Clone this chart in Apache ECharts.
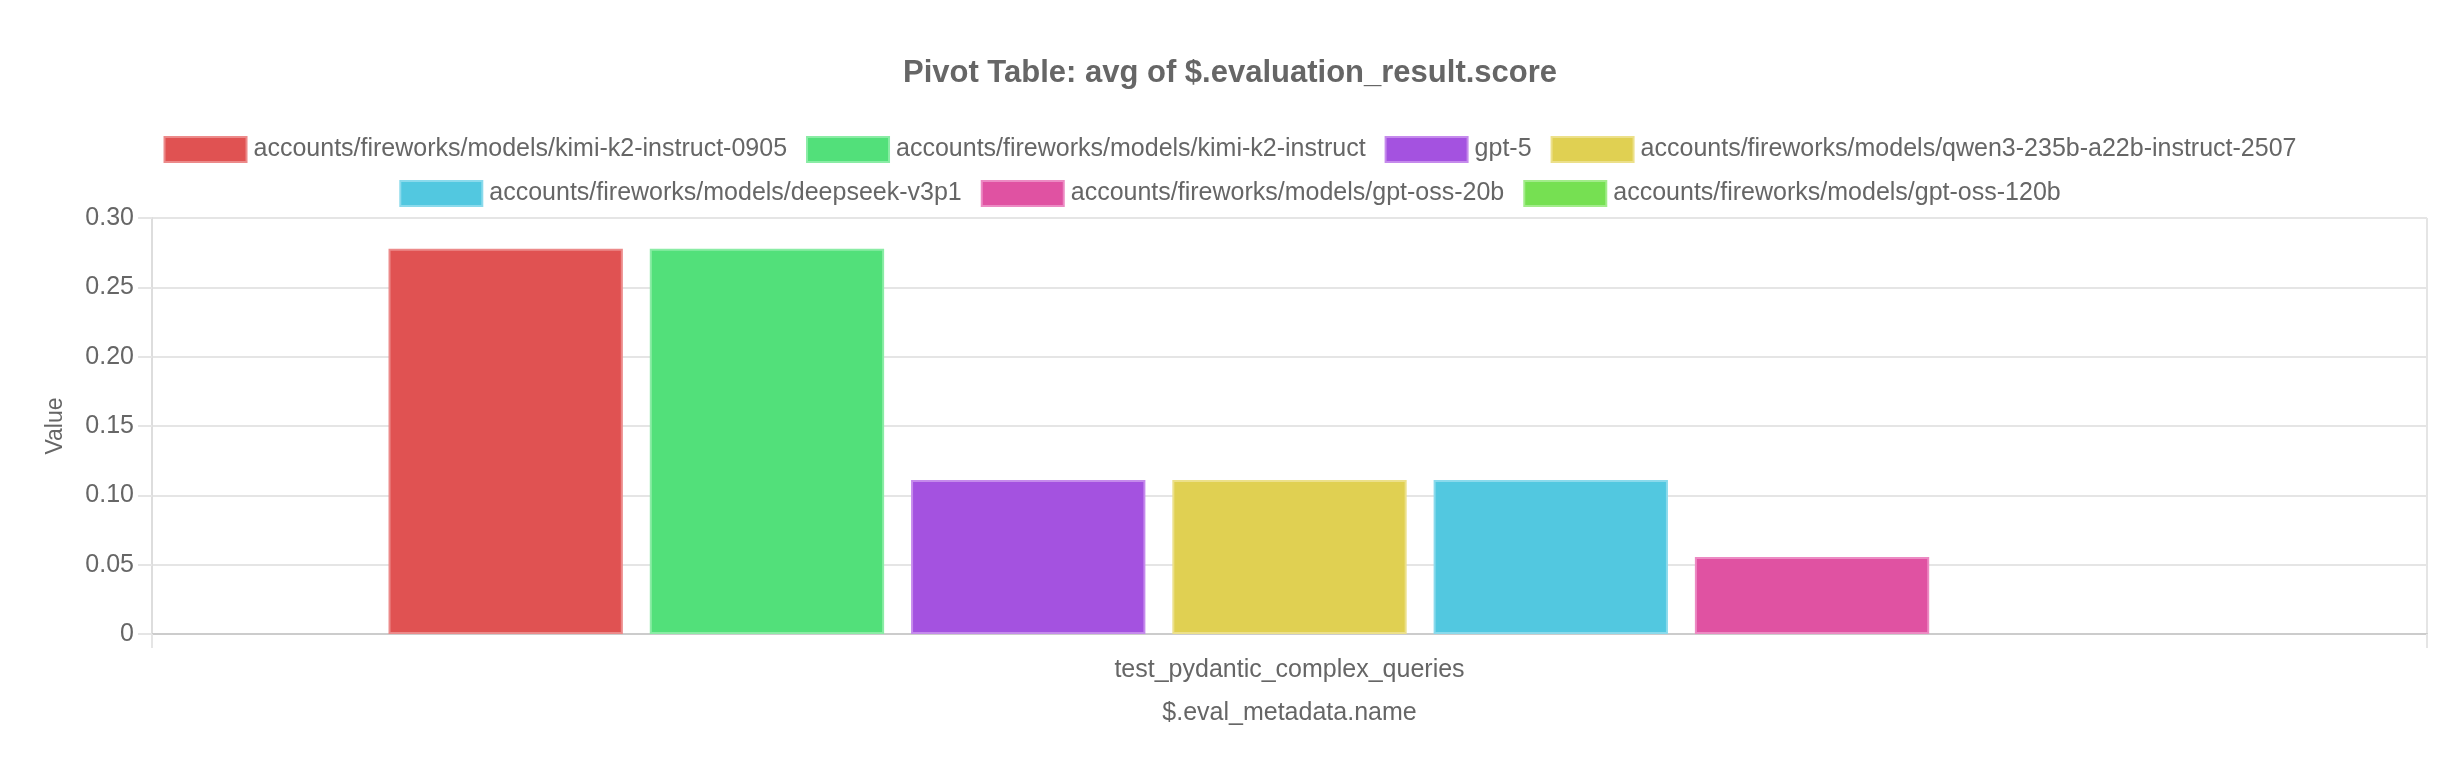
<!DOCTYPE html>
<html>
<head>
<meta charset="utf-8">
<script src="https://cdn.jsdelivr.net/npm/echarts@6/dist/echarts.min.js"></script>
<style>
  html, body { margin: 0; padding: 0; background: #fff; }
  #chart { width: 2460px; height: 768px; }
</style>
</head>
<body>
<div id="chart"></div>
<script>
// data
var categories = ['test_pydantic_complex_queries'];
var modelNames = [
  'accounts/fireworks/models/kimi-k2-instruct-0905',
  'accounts/fireworks/models/kimi-k2-instruct',
  'gpt-5',
  'accounts/fireworks/models/qwen3-235b-a22b-instruct-2507',
  'accounts/fireworks/models/deepseek-v3p1',
  'accounts/fireworks/models/gpt-oss-20b',
  'accounts/fireworks/models/gpt-oss-120b'
];
var scores = [0.2778, 0.2778, 0.1111, 0.1111, 0.1111, 0.0556, 0];
var fillColors = ['#E05252', '#52E07A', '#A452E0', '#E0D052', '#52C8E0', '#E052A2', '#76E052'];
var edgeColors = ['#EC8A8A', '#8AECA5', '#C58AEC', '#ECE08A', '#8ADAEC', '#EC8AC3', '#A2EC8A'];
var yTicks = { min: 0, max: 0.30, step: 0.05 };

var FONT = '"Helvetica Neue", Helvetica, Arial, "Liberation Sans", sans-serif';

(function() {
  var myChart = echarts.init(document.getElementById('chart'));

  var series = modelNames.map(function(name, i) {
    return {
      name: name,
      type: 'bar',
      barWidth: '10.3%',
      barGap: '11.5%',
      itemStyle: {
        color: fillColors[i],
        borderColor: edgeColors[i],
        borderWidth: 2
      },
      // a zero bar is not drawn at all in the original
      data: [{ value: scores[i], itemStyle: { borderWidth: scores[i] === 0 ? 0 : 2 } }]
    };
  });

  var legendBase = {
    left: 'center',
    itemWidth: 82,
    itemHeight: 25,
    itemGap: 19,
    icon: 'rect',
    textStyle: { color: '#666', fontSize: 25, fontFamily: FONT, padding: [0, 0, 0, 2] }
  };

  var option = {
    backgroundColor: '#fff',
    animation: false,
    title: {
      text: 'Pivot Table: avg of $.evaluation_result.score',
      left: 'center',
      top: 53,
      textStyle: { color: '#666', fontSize: 31, fontWeight: 'bold', fontFamily: FONT }
    },
    legend: [
      Object.assign({}, legendBase, { top: 131, data: modelNames.slice(0, 4) }),
      Object.assign({}, legendBase, { top: 175, data: modelNames.slice(4) })
    ],
    grid: { left: 152, right: 33, top: 218, bottom: 134, containLabel: false },
    xAxis: {
      type: 'category',
      data: categories,
      name: '$.eval_metadata.name',
      nameLocation: 'middle',
      nameGap: 67,
      nameTextStyle: { color: '#666', fontSize: 25, fontFamily: FONT },
      axisLine: { lineStyle: { color: '#ccc', width: 2 } },
      axisTick: { show: true, length: 14, lineStyle: { color: '#e5e5e5', width: 2 } },
      splitLine: { show: true, lineStyle: { color: '#e5e5e5', width: 2 } },
      axisLabel: { color: '#666', fontSize: 25, fontFamily: FONT, margin: 24 }
    },
    yAxis: {
      type: 'value',
      min: yTicks.min,
      max: yTicks.max,
      interval: yTicks.step,
      name: 'Value',
      nameLocation: 'middle',
      nameGap: 85,
      nameTextStyle: { color: '#666', fontSize: 23, fontFamily: FONT },
      axisLine: { show: true, lineStyle: { color: '#ddd', width: 2 } },
      axisTick: { show: true, length: 14, lineStyle: { color: '#e5e5e5', width: 2 } },
      splitLine: { show: true, lineStyle: { color: '#e5e5e5', width: 2 } },
      axisLabel: {
        color: '#666',
        fontSize: 25,
        fontFamily: FONT,
        margin: 18,
        formatter: function(v) { return v === 0 ? '0' : v.toFixed(2); }
      }
    },
    series: series
  };

  myChart.setOption(option);
  window.addEventListener('resize', function() {
    myChart.resize();
  });
})();
</script>
</body>
</html>
